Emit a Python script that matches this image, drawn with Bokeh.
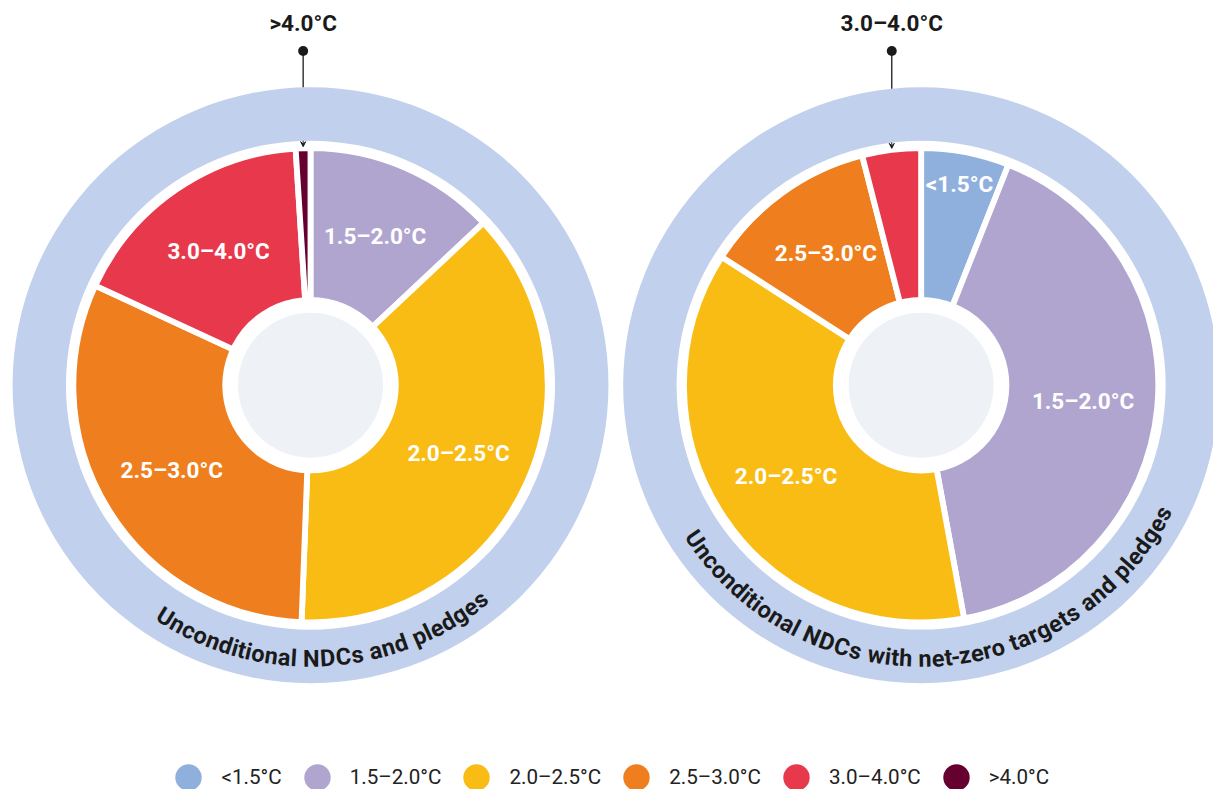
import math
from bokeh.plotting import figure
from bokeh.models import Range1d, Legend, LegendItem, Arrow, VeeHead
from bokeh.core.properties import value
from bokeh.embed import file_html
from bokeh.resources import INLINE

# ---------------- data ----------------
categories = ["<1.5°C", "1.5–2.0°C", "2.0–2.5°C", "2.5–3.0°C", "3.0–4.0°C", ">4.0°C"]
colors = ["#8FB0DD", "#B0A5CF", "#F9BC15", "#EF7F1E", "#E8394C", "#66002F"]
pledges_share = [0.0, 13.0, 37.6, 31.3, 17.1, 1.0]          # % of outcomes
netzero_share = [6.0, 41.1, 37.0, 11.9, 4.0, 0.0]           # % of outcomes
chart_titles = ["Unconditional NDCs and pledges",
                "Unconditional NDCs with net-zero targets and pledges"]
callout_index = [5, 4]   # slice called out above each chart

# ---------------- layout (reference pixel units) ----------------
W_FIG, H_FIG = 1213, 789
S = H_FIG / 805.0
XSPAN = W_FIG / S
X0 = 614.5 - XSPAN / 2
CENTERS_X = [312.0, 935.0]
CENTER_Y = 392.5
R_PIE, R_HOLE_W, R_HOLE_G = 239.0, 90.0, 74.0
R_RING_IN, R_RING_OUT, R_TEXT = 249.5, 304.0, 279.0
RING_COLOR, HOLE_COLOR, INK = "#C1D0EC", "#EEF2F6", "#1A1A1A"
EM_ADV = {'U': 0.64, 'n': 0.55, 'c': 0.52, 'o': 0.56, 'd': 0.56, 'i': 0.25, 't': 0.33,
          'a': 0.53, 'l': 0.25, ' ': 0.25, 'N': 0.70, 'D': 0.66, 'C': 0.65, 's': 0.52,
          'p': 0.56, 'e': 0.53, 'g': 0.56, 'w': 0.74, 'h': 0.55, '-': 0.28, 'z': 0.49, 'r': 0.35}
PX_PER_EM = 24.6
TEXT_CENTER_DEG = 3.0
LEG_BOX = 66


def fs(px):
    return f"{px * S:.1f}px"


p = figure(width=W_FIG, height=H_FIG, x_range=Range1d(X0, X0 + XSPAN), y_range=Range1d(-805, 0),
           output_backend="svg", toolbar_location=None, min_border=0)
p.axis.visible = False
p.grid.visible = False
p.outline_line_color = None
p.background_fill_color = "white"
p.border_fill_color = "white"

for ci, shares in enumerate([pledges_share, netzero_share]):
    cx, cy = CENTERS_X[ci], -CENTER_Y
    total = float(sum(shares))
    # ring
    p.annulus(x=[cx], y=[cy], inner_radius=R_RING_IN, outer_radius=R_RING_OUT,
              fill_color=RING_COLOR, line_color=None)
    # slices
    cum = 0.0
    mids = []
    for k, v in enumerate(shares):
        f0, f1 = cum / total, (cum + v) / total
        cum += v
        mids.append(math.pi * (f0 + f1))   # clockwise from north
        if v <= 0:
            continue
        p.wedge(x=[cx], y=[cy], radius=R_PIE + 3,
                start_angle=math.pi / 2 - 2 * math.pi * f0,
                end_angle=math.pi / 2 - 2 * math.pi * f1,
                direction="clock", fill_color=colors[k], line_color="white", line_width=6 * S)
    # hole
    p.circle(x=[cx], y=[cy], radius=R_HOLE_W, fill_color="white", line_color=None)
    p.circle(x=[cx], y=[cy], radius=R_HOLE_G, fill_color=HOLE_COLOR, line_color=None)
    # slice labels
    for k, v in enumerate(shares):
        if v < 5:
            continue
        rl = 209 if v < 8 else 166
        a = mids[k]
        p.text(x=[cx + rl * math.sin(a)], y=[cy + rl * math.cos(a)], text=[categories[k]],
               text_font=value("Roboto"), text_font_style="bold", text_font_size=fs(23),
               text_color="white", text_align="center", text_baseline="middle")
    # callout
    k = callout_index[ci]
    a = mids[k]
    xc = cx + R_PIE * math.sin(a)
    dx = xc - cx
    y_ring_top = cy + math.sqrt(R_RING_OUT ** 2 - dx ** 2)
    y_dot = cy + R_RING_OUT + 37
    p.segment(x0=[xc], y0=[y_dot], x1=[xc], y1=[y_ring_top], line_color=INK, line_width=1.3)
    p.scatter(x=[xc], y=[y_dot], size=10, fill_color=INK, line_color=None)
    p.text(x=[xc], y=[cy + R_RING_OUT + 66], text=[categories[k]],
           text_font=value("Roboto"), text_font_style="bold", text_font_size=fs(23),
           text_color=INK, text_align="center", text_baseline="middle")
    p.add_layout(Arrow(end=VeeHead(size=5, line_color=INK, line_width=1, fill_color=INK),
                       x_start=xc, y_start=cy + math.sqrt(R_RING_IN ** 2 - dx ** 2),
                       x_end=xc, y_end=cy + math.sqrt((R_PIE + 4.5) ** 2 - dx ** 2),
                       line_color=INK, line_width=1))
    # curved title along the ring bottom
    title = chart_titles[ci]
    advs = [EM_ADV.get(ch, 0.55) * PX_PER_EM for ch in title]
    total_w = sum(advs)
    pos = 0.0
    xs, ys, angs, chars = [], [], [], []
    for ch, adv in zip(title, advs):
        centre = pos + adv / 2
        pos += adv
        if ch == " ":
            continue
        phi = math.radians(TEXT_CENTER_DEG) + (centre - total_w / 2) / R_TEXT
        theta = -math.pi / 2 + phi
        xs.append(cx + R_TEXT * math.cos(theta))
        ys.append(cy + R_TEXT * math.sin(theta))
        angs.append(theta + math.pi / 2)
        chars.append(ch)
    p.text(x=xs, y=ys, text=chars, angle=angs, text_font=value("Roboto"),
           text_font_style="bold", text_font_size=fs(24), text_color=INK,
           text_align="center", text_baseline="alphabetic")

# legend
items = []
for k, cat in enumerate(categories):
    r = p.scatter(x=[float("nan")], y=[float("nan")], size=24, fill_color=colors[k], line_color=None)
    items.append(LegendItem(label=cat, renderers=[r]))
legend = Legend(items=items, orientation="horizontal", glyph_width=LEG_BOX, glyph_height=LEG_BOX,
                label_standoff=0, spacing=2, padding=0, margin=0,
                border_line_alpha=0, background_fill_alpha=0,
                label_text_font="Roboto", label_text_font_size=fs(21), label_text_color="#222222",
                location=((188 - X0) * S - LEG_BOX / 2, H_FIG - (793 * S + LEG_BOX / 2)))
p.add_layout(legend)

open("out.html", "w").write(file_html(p, INLINE))
